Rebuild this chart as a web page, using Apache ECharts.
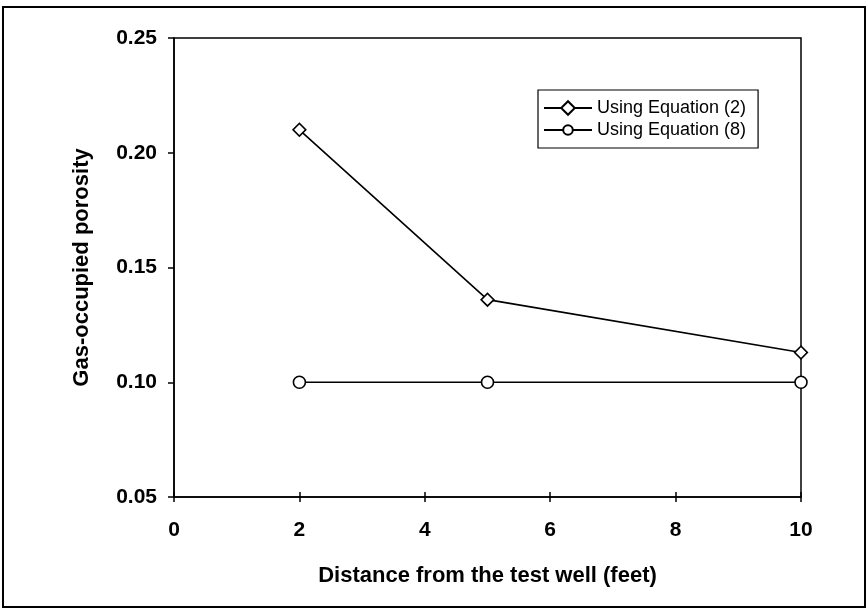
<!DOCTYPE html>
<html>
<head>
<meta charset="utf-8">
<script src="https://cdn.jsdelivr.net/npm/echarts@6/dist/echarts.min.js"></script>
<style>
  html, body { margin: 0; padding: 0; background: #fff; }
  #chart { width: 868px; height: 610px; }
</style>
</head>
<body>
<div id="chart"></div>
<script>
// data
var distances = [2, 5, 10];
var eq2Values = [0.210, 0.136, 0.113];
var eq8Values = [0.100, 0.100, 0.100];
var seriesNames = ["Using Equation (2)", "Using Equation (8)"];
var xTicks = [0, 2, 4, 6, 8, 10];
var yTicks = [0.05, 0.10, 0.15, 0.20, 0.25];

function pairs(xs, ys) {
    return xs.map(function (x, i) { return [x, ys[i]]; });
}

var font = "Liberation Sans, Arial, sans-serif";
var dom = document.getElementById("chart");
var myChart = echarts.init(dom);
var option = {
    backgroundColor: "#fff",
    animation: false,
    textStyle: { fontFamily: font, color: "#000" },
    graphic: [
        { type: "rect", shape: { x: 3, y: 7, width: 862, height: 600 },
          style: { fill: "none", stroke: "#000", lineWidth: 2 }, silent: true }
    ],
    grid: {
        left: 174, right: 67, top: 38, bottom: 113,
        show: true, borderColor: "#000", borderWidth: 1.5, backgroundColor: "#fff"
    },
    legend: {
        data: seriesNames,
        orient: "vertical",
        left: 538, top: 90,
        itemWidth: 48, itemHeight: 12, itemGap: 4,
        padding: [9, 12, 9, 5],
        borderColor: "#000", borderWidth: 1.2,
        textStyle: { fontFamily: font, fontSize: 18, color: "#000" }
    },
    xAxis: [
        {
            type: "value", min: xTicks[0], max: xTicks[xTicks.length - 1], interval: 2,
            name: "Distance from the test well (feet)",
            nameLocation: "middle", nameGap: 68,
            nameTextStyle: { fontFamily: font, fontSize: 22, fontWeight: "bold", color: "#000" },
            axisLine: { lineStyle: { color: "#000", width: 1.5 } },
            axisTick: { inside: false, length: 5, lineStyle: { color: "#000", width: 1.5 } },
            axisLabel: { margin: 23, fontFamily: font, fontSize: 21, fontWeight: "bold", color: "#000" },
            splitLine: { show: false }
        },
        {
            type: "value", min: xTicks[0], max: xTicks[xTicks.length - 1], interval: 2,
            position: "bottom",
            axisLine: { show: false },
            axisTick: { inside: true, length: 5, lineStyle: { color: "#000", width: 1.5 } },
            axisLabel: { show: false },
            splitLine: { show: false }
        }
    ],
    yAxis: {
        type: "value", min: yTicks[0], max: yTicks[yTicks.length - 1], interval: 0.05,
        name: "Gas-occupied porosity",
        nameLocation: "middle", nameGap: 81,
        nameTextStyle: { fontFamily: font, fontSize: 22, fontWeight: "bold", color: "#000" },
        axisLine: { show: true, lineStyle: { color: "#000", width: 1.5 } },
        axisTick: { show: true, length: 6, lineStyle: { color: "#000", width: 1.5 } },
        axisLabel: {
            margin: 17, fontFamily: font, fontSize: 21, fontWeight: "bold", color: "#000",
            formatter: function (v) { return v.toFixed(2); }
        },
        splitLine: { show: false }
    },
    series: [
        {
            name: seriesNames[0],
            type: "line",
            data: pairs(distances, eq2Values),
            symbol: "rect", symbolRotate: 45, symbolSize: 9,
            lineStyle: { color: "#000", width: 1.6 },
            itemStyle: { color: "#fff", borderColor: "#000", borderWidth: 1.6 }
        },
        {
            name: seriesNames[1],
            type: "line",
            data: pairs(distances, eq8Values),
            symbol: "circle", symbolSize: 12,
            lineStyle: { color: "#000", width: 1.6 },
            itemStyle: { color: "#fff", borderColor: "#000", borderWidth: 1.6 }
        }
    ]
};
option && "object" == typeof option && myChart.setOption(option, !0);
</script>
</body>
</html>
